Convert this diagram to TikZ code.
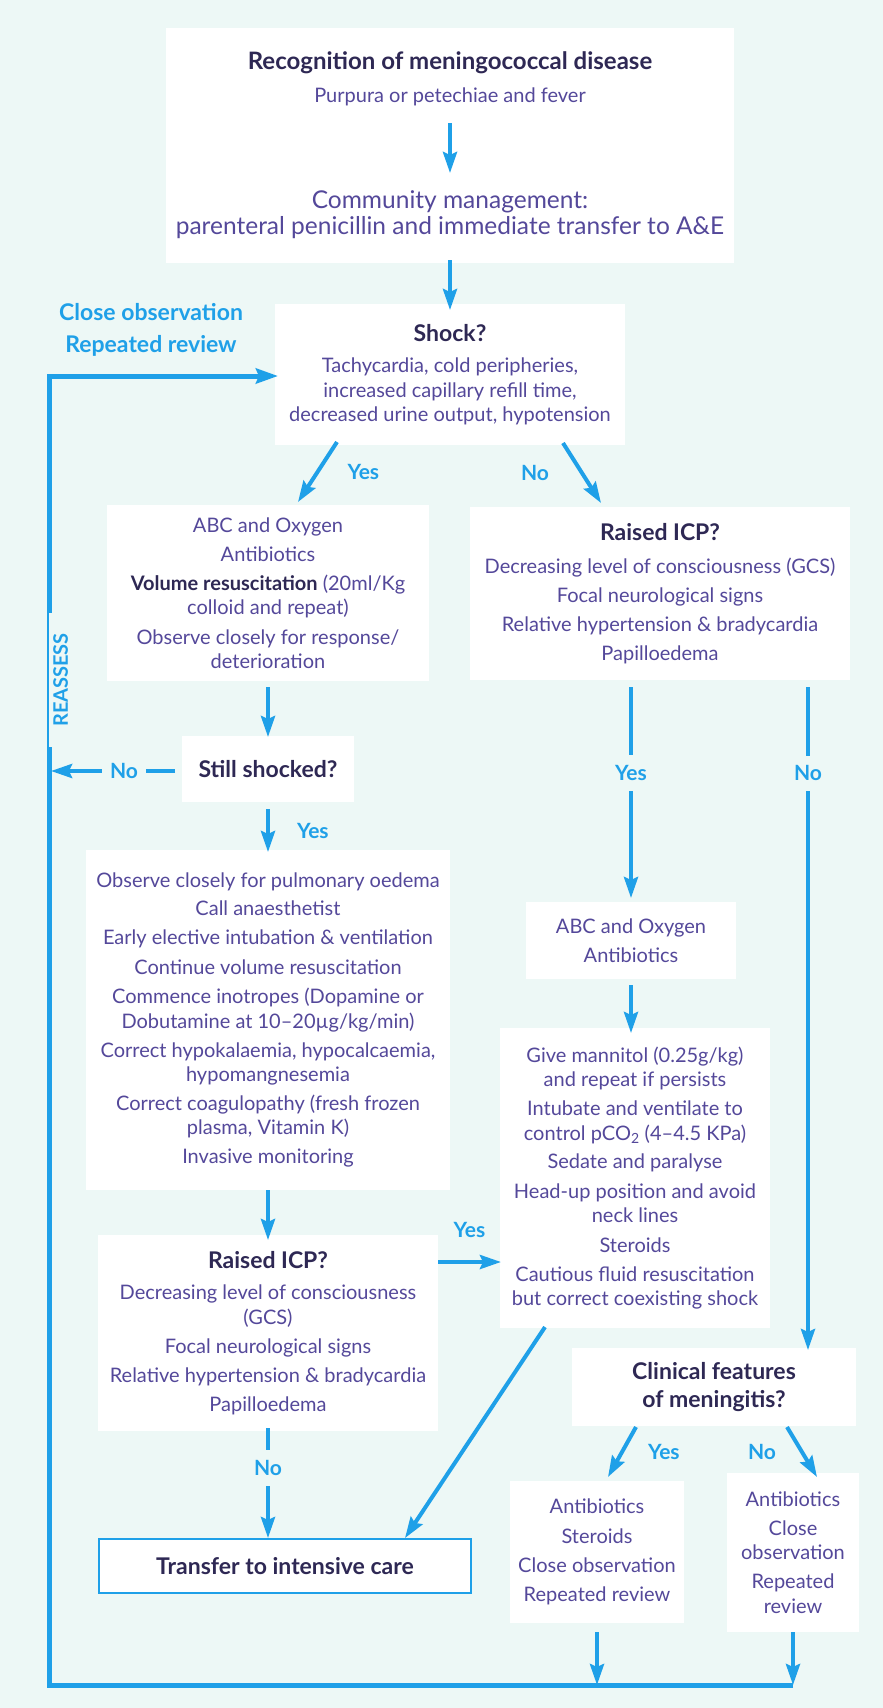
\documentclass[tikz,border=0pt]{standalone}
\usepackage{fontspec}
\setmainfont{Lato}
\usetikzlibrary{positioning,arrows.meta,fit,backgrounds}

\definecolor{rblue}{HTML}{1FA0E8}
\definecolor{headc}{HTML}{2E2854}
\definecolor{bodyc}{HTML}{54489A}
\definecolor{bgc}{HTML}{EDF8F6}

\tikzset{
  head/.style={font=\fontsize{23}{28}\selectfont\bfseries, text=headc, align=center, inner sep=0pt},
  body/.style={font=\fontsize{20}{24.5}\selectfont, text=bodyc, align=center, inner sep=0pt},
  big/.style={font=\fontsize{24.5}{26}\selectfont, text=bodyc, align=center, inner sep=0pt},
  review/.style={font=\fontsize{23}{32}\selectfont\bfseries, text=rblue, align=center, inner sep=0pt},
  lbl/.style={font=\fontsize{21}{24}\selectfont\bfseries, text=rblue, inner sep=0pt},
  gaplbl/.style={lbl, fill=bgc, inner xsep=3pt, inner ysep=10pt},
  arr/.style={draw=rblue, line width=4pt, -{Stealth[length=21pt, width=14pt, inset=3pt]}},
  loopline/.style={draw=rblue, line width=5pt, -{Stealth[length=22pt, width=15pt, inset=3pt]}},
  care/.style={draw=rblue, line width=2pt, fill=white, minimum width=372pt, minimum height=54pt,
    font=\fontsize{23}{28}\selectfont\bfseries, text=headc},
  panel/.style={fill=white, draw=none},
}

\begin{document}
\begin{tikzpicture}[x=1pt, y=-1pt, on grid]

    \useasboundingbox (0,0) rectangle (883,1708);

    % Define nodes
    \node[head, font=\fontsize{24}{28}\selectfont\bfseries] (recog) at (450,63) {Recognition of meningococcal disease};
    \node[body, below=34pt of recog]                 (purp)   {Purpura or petechiae and fever};
    \node[big, below=118pt of purp]                  (comm)   {Community management:\\parenteral penicillin and immediate transfer to A\&E};
    \node[head, below=118pt of comm]                 (shockq) {Shock?};
    \node[body, below=58.5pt of shockq]              (shockd) {Tachycardia, cold peripheries,\\increased capillary refill time,\\decreased urine output, hypotension};
    \node[review, above left=3pt and 299pt of shockq] (rev)   {Close observation\\Repeated review};

    % shocked branch
    \node[body, below left=201.5pt and 182pt of shockd] (abcL) {ABC and Oxygen\\[4.5pt]Antibiotics\\[4.5pt]{\color{headc}\bfseries Volume resuscitation} (20ml/Kg\\colloid and repeat)\\[5pt]Observe closely for response/\\deterioration};
    \node[head, below=176pt of abcL]                 (stillq) {Still shocked?};
    \node[body, below=251pt of stillq]               (obsL)   {Observe closely for pulmonary oedema\\[4pt]Call anaesthetist\\[4.5pt]Early elective intubation \& ventilation\\[5pt]Continue volume resuscitation\\[5pt]Commence inotropes (Dopamine or\\Dobutamine at 10–20µg/kg/min)\\[4.5pt]Correct hypokalaemia, hypocalcaemia,\\hypomangnesemia\\[4pt]Correct coagulopathy (fresh frozen\\plasma, Vitamin K)\\[4.5pt]Invasive monitoring};
    \node[head, below=240pt of obsL]                 (icpLq)  {Raised ICP?};
    \node[body, below=90pt of icpLq]                 (icpL)   {Decreasing level of consciousness\\(GCS)\\[5pt]Focal neurological signs\\[4.5pt]Relative hypertension \& bradycardia\\[4.5pt]Papilloedema};
    \node[care, below right=216pt and 17pt of icpL]  (tr)     {Transfer to intensive care};

    % no shock branch
    \node[head, below right=140.5pt and 210pt of shockd] (icpRq) {Raised ICP?};
    \node[body, below=78.5pt of icpRq]               (icpR)   {Decreasing level of consciousness (GCS)\\[4.5pt]Focal neurological signs\\[4.5pt]Relative hypertension \& bradycardia\\[4.5pt]Papilloedema};
    \node[body, below left=330pt and 29pt of icpR]   (abcR)   {ABC and Oxygen\\[4.5pt]Antibiotics};
    \node[body, below right=237.5pt and 4pt of abcR] (mannR)  {Give mannitol (0.25g/kg)\\and repeat if persists\\[4.5pt]Intubate and ventilate to\\control pCO\textsubscript{2} (4–4.5 KPa)\\[4pt]Sedate and paralyse\\[5pt]Head-up position and avoid\\neck lines\\[5pt]Steroids\\[4.5pt]Cautious fluid resuscitation\\but correct coexisting shock};
    \node[head, below right=209pt and 79pt of mannR] (clin)   {Clinical features\\of meningitis?};
    \node[body, below left=165pt and 117pt of clin]  (subY)   {Antibiotics\\[5pt]Steroids\\[4.5pt]Close observation\\[4.5pt]Repeated review};
    \node[body, below right=165.5pt and 79pt of clin] (subN)  {Antibiotics\\[4.5pt]Close\\observation\\[4.5pt]Repeated\\review};

    % loop corners
    \coordinate (lt) at (49,376);
    \coordinate (lb) at (49,1685);

    % Connect the nodes
    \draw[arr] ([yshift=-26pt]purp.center) -- ([yshift=42pt]comm.center);
    \draw[arr] ([yshift=-45pt]comm.center) -- ([yshift=23pt]shockq.center);
    \draw[arr] ([shift={(-113pt,-50.5pt)}]shockd.center) -- node[lbl, right=28pt] (yes1) {Yes} ([shift={(30pt,91pt)}]abcL.center);
    \draw[arr] ([shift={(113pt,-51.5pt)}]shockd.center) -- node[lbl, left=31pt] (no1) {No} ([shift={(-59pt,29pt)}]icpRq.center);

    \draw[arr] ([yshift=-94pt]abcL.center) -- ([yshift=32pt]stillq.center);
    \draw[arr] ([shift={(-93pt,-2pt)}]stillq.center) -- node[gaplbl, inner xsep=8pt, inner ysep=4pt, pos=0.411] (no2) {No} ([shift={(-217pt,-2pt)}]stillq.center);
    \draw[arr] ([yshift=-40pt]stillq.center) -- node[lbl, right=27pt] (yes2) {Yes} ([yshift=168pt]obsL.center);
    \draw[arr] ([yshift=-170pt]obsL.center) -- ([yshift=20pt]icpLq.center);
    \draw[arr] ([yshift=-78pt]icpL.center) -- node[gaplbl, pos=0.364] (no3) {No} ([shift={(-17pt,28pt)}]tr.center);
    \draw[arr] ([shift={(170pt,-2pt)}]icpLq.center) -- node[lbl, above=22pt] (yes3) {Yes} ([shift={(-134pt,-84pt)}]mannR.center);

    \draw[arr] ([shift={(-29pt,-76.5pt)}]icpR.center) -- node[gaplbl, pos=0.408] (yes4) {Yes} ([yshift=42.5pt]abcR.center);
    \draw[arr] ([yshift=-44.5pt]abcR.center) -- ([shift={(-4pt,145pt)}]mannR.center);
    \draw[arr] ([shift={(148pt,-76.5pt)}]icpR.center) -- node[gaplbl, pos=0.13] (no4) {No} ([shift={(94pt,37pt)}]clin.center);
    \draw[arr] ([shift={(-90pt,-149pt)}]mannR.center) -- ([shift={(120pt,28pt)}]tr.center);

    \draw[arr] ([shift={(-78pt,-40pt)}]clin.center) -- node[lbl, right=24pt] (yes5) {Yes} ([shift={(11pt,75pt)}]subY.center);
    \draw[arr] ([shift={(73pt,-40pt)}]clin.center) -- node[lbl, left=24pt] (no5) {No} ([shift={(24pt,75.5pt)}]subN.center);
    \draw[arr] ([yshift=-80pt]subY.center) -- (subY |- lb);
    \draw[arr] ([yshift=-79.5pt]subN.center) -- (subN |- lb);

    % Reassess loop
    \draw[loopline] (subN |- lb) -- (lb) -- (lt) -- ([shift={(-172pt,-43pt)}]shockq.center);
    \node[font=\fontsize{20}{20}\selectfont\bfseries, text=rblue, fill=bgc, rotate=90,
          inner xsep=20pt, inner ysep=4pt, below=304pt of lt] (reas) {REASSESS};

    % Panels
    \begin{scope}[on background layer]
      \fill[bgc] (0,0) rectangle (883,1708);
      \node[panel, fit=(recog)(comm), inner xsep=10pt, inner ysep=24pt]         (p1) {};
      \node[panel, fit=(shockq)(shockd), inner xsep=14pt, inner ysep=20pt]      (p2) {};
      \node[panel, fit=(abcL), inner xsep=24pt, inner ysep=12pt]                (p3) {};
      \node[panel, fit=(stillq), inner xsep=16pt, inner ysep=24pt]              (p4) {};
      \node[panel, fit=(obsL), inner xsep=10pt, inner ysep=22pt]                (p5) {};
      \node[panel, fit=(icpLq)(icpL), inner xsep=12pt, inner ysep=16pt]         (p6) {};
      \node[panel, fit=(icpRq)(icpR), inner xsep=14pt, inner ysep=16pt]         (p7) {};
      \node[panel, fit=(abcR), inner xsep=30pt, inner ysep=16pt]                (p8) {};
      \node[panel, fit=(mannR), inner xsep=12pt, inner ysep=18pt]               (p9) {};
      \node[panel, fit=(clin), inner xsep=60pt, inner ysep=14pt]                (p10) {};
      \node[panel, fit=(subY), inner xsep=8pt, inner ysep=18pt]                 (p11) {};
      \node[panel, fit=(subN), inner xsep=14pt, inner ysep=18pt]                (p12) {};
    \end{scope}

\end{tikzpicture}
\end{document}
